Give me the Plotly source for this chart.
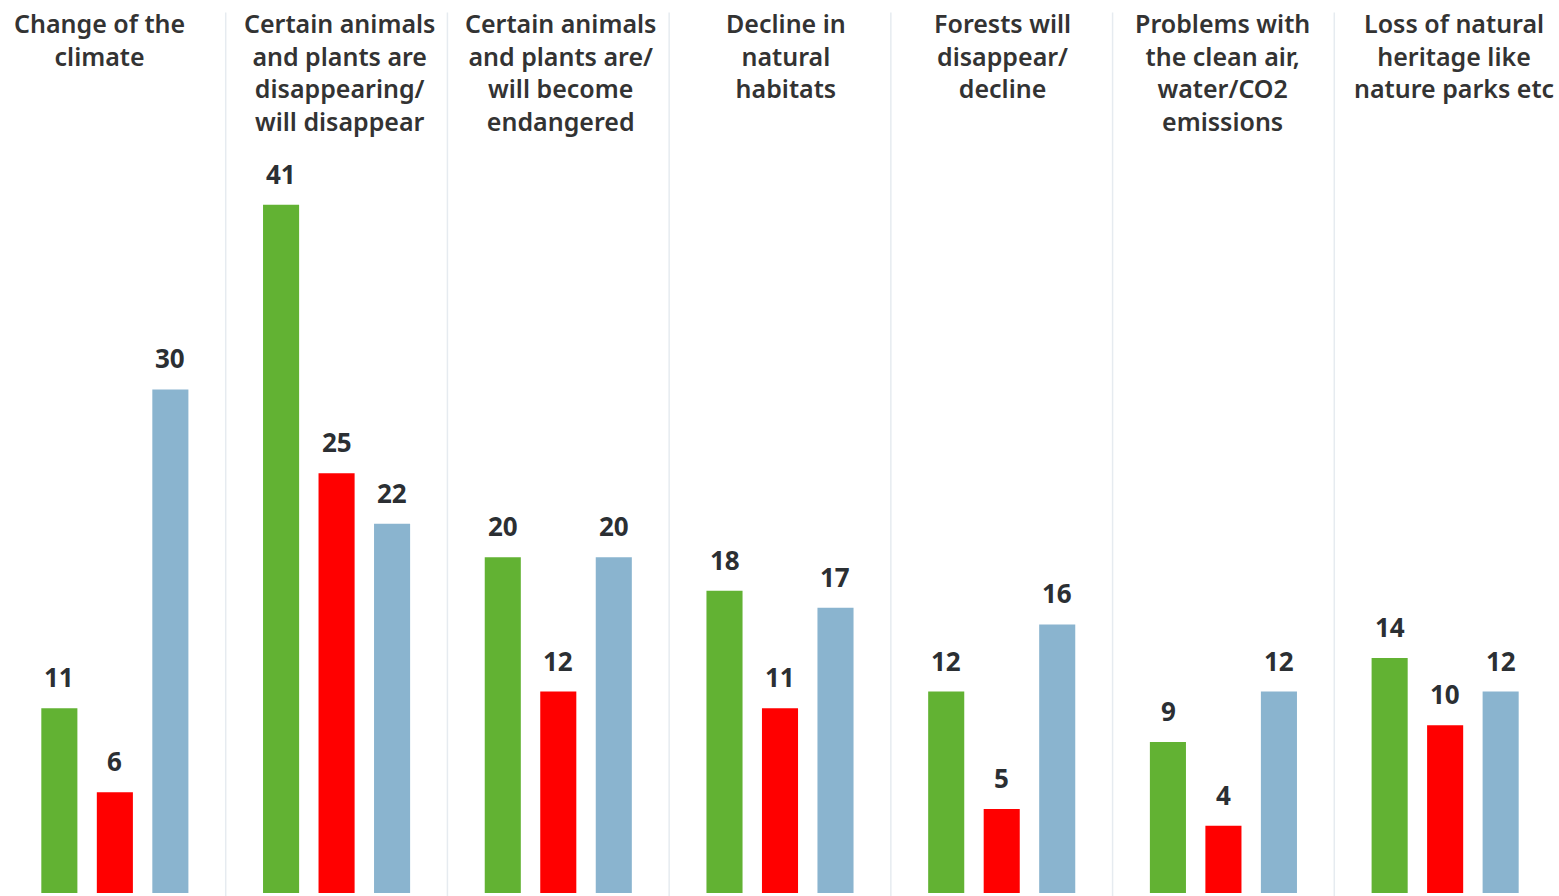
import plotly.graph_objects as go

categories = [
    "Change of the<br>climate",
    "Certain animals<br>and plants are<br>disappearing/<br>will disappear",
    "Certain animals<br>and plants are/<br>will become<br>endangered",
    "Decline in<br>natural<br>habitats",
    "Forests will<br>disappear/<br>decline",
    "Problems with<br>the clean air,<br>water/CO2<br>emissions",
    "Loss of natural<br>heritage like<br>nature parks etc",
]
series_green = [11, 41, 20, 18, 12, 9, 14]
series_red = [6, 25, 12, 11, 5, 4, 10]
series_blue = [30, 22, 20, 17, 16, 12, 12]

colors = ["#62b233", "#ff0000", "#8ab4cf"]
header_shift = [-15, 3, 2, 6, 1, -1, 9]

FONT = "Noto Sans"
xs = list(range(len(categories)))

fig = go.Figure()
for vals, col in zip([series_green, series_red, series_blue], colors):
    fig.add_trace(go.Bar(x=xs, y=vals, marker=dict(color=col, line=dict(width=0)),
                         showlegend=False, hoverinfo="skip"))

fig.update_layout(
    barmode="group", bargap=0.249, bargroupgap=0.35,
    width=1559, height=896,
    margin=dict(l=4, r=3, t=0, b=3),
    plot_bgcolor="white", paper_bgcolor="white",
    xaxis=dict(range=[-0.5, 6.5], showticklabels=False, showgrid=False, zeroline=False, fixedrange=True),
    yaxis=dict(range=[0, 53.2], showticklabels=False, showgrid=False, zeroline=False, fixedrange=True),
    font=dict(family=FONT, color="#333333"),
)

# value labels
offsets = [-0.25, 0, 0.25]
for vals, off in zip([series_green, series_red, series_blue], offsets):
    for i, v in enumerate(vals):
        fig.add_annotation(x=i + off, y=v, xref="x", yref="y", text=f"<b>{v}</b>",
                           showarrow=False, yanchor="bottom", yshift=11,
                           font=dict(family=FONT, size=26, color="#2b2f33"))

# headers
for i, c in enumerate(categories):
    fig.add_annotation(x=i, y=1, xref="x", yref="paper", text=c, showarrow=False,
                       yanchor="top", yshift=-4, xshift=header_shift[i],
                       font=dict(family=FONT, size=25, color="#333333", weight=600), align="center")

# separators
for i in range(len(categories) - 1):
    fig.add_shape(type="line", x0=i + 0.5, x1=i + 0.5, xref="x", yref="paper",
                  y0=-0.01, y1=0.986, line=dict(color="#e6ebf0", width=1.5))

fig.write_html("out.html", config={"displayModeBar": False},
               post_script="document.body.style.margin='0';document.body.style.overflow='hidden';")
